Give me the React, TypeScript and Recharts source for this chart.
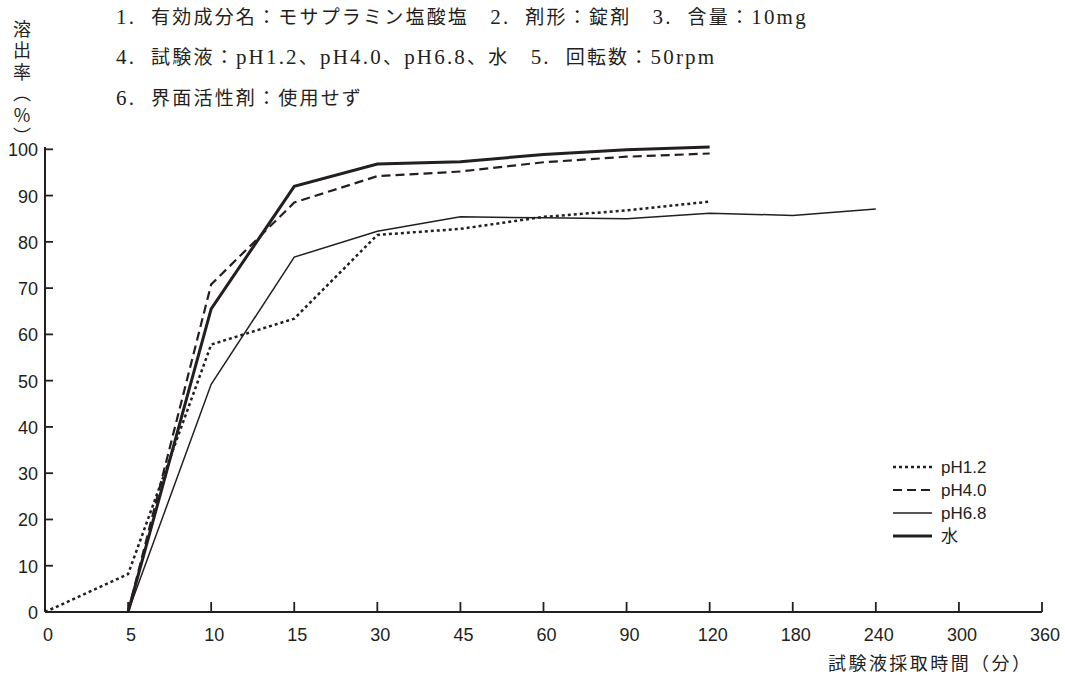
import React from 'react';
import { LineChart, Line, XAxis, YAxis } from 'recharts';

// sampling times (min) — shown as equally spaced categories
const times = ['0', '5', '10', '15', '30', '45', '60', '90', '120', '180', '240', '300', '360'];
const yTicks = [0, 10, 20, 30, 40, 50, 60, 70, 80, 90, 100];

// dissolution (%)
const ph12 = [0, 8.2, 57.8, 63.4, 81.5, 82.8, 85.4, 86.8, 88.7, null, null, null, null];
const ph40 = [null, 0, 70.8, 88.5, 94.2, 95.2, 97.2, 98.4, 99.1, null, null, null, null];
const ph68 = [null, 0, 49.2, 76.7, 82.3, 85.4, 85.2, 85.0, 86.2, 85.7, 87.1, null, null];
const water = [null, 0, 65.5, 92.0, 96.8, 97.3, 98.9, 99.9, 100.5, null, null, null, null];

// header lines, split into latin / japanese runs
const header1 = [['1.  ', 'L'], ['有効成分名：モサプラミン塩酸塩　', 'J'], ['2.  ', 'L'], ['剤形：錠剤　', 'J'], ['3.  ', 'L'], ['含量：', 'J'], ['10mg', 'L']];
const header2 = [['4.  ', 'L'], ['試験液：', 'J'], ['pH1.2', 'L'], ['、', 'J'], ['pH4.0', 'L'], ['、', 'J'], ['pH6.8', 'L'], ['、水　', 'J'], ['5.  ', 'L'], ['回転数：', 'J'], ['50rpm', 'L']];
const header3 = [['6.  ', 'L'], ['界面活性剤：使用せず', 'J']];
const yTitle = '溶出率（%）';
const xTitle = '試験液採取時間（分）';

const INK = '#231f20';
const SANS = '"Liberation Sans", Arial, sans-serif';
const CJK = '"Noto Sans CJK JP", "Liberation Sans", sans-serif';
const SERIF = '"Liberation Serif", "Times New Roman", serif';

const series = [
  { key: 'ph12', name: 'pH1.2', width: 2.5, dash: '3 3' },
  { key: 'ph40', name: 'pH4.0', width: 2.2, dash: '9 5' },
  { key: 'ph68', name: 'pH6.8', width: 1.5, dash: undefined },
  { key: 'water', name: '水', width: 3, dash: undefined },
];

const data = times.map((t, i) => ({
  i,
  t,
  ph12: ph12[i],
  ph40: ph40[i],
  ph68: ph68[i],
  water: water[i],
}));

const XTick = (props: any) => {
  const { x, y, payload } = props;
  return (
    <g>
      <line x1={x} x2={x} y1={y} y2={y - 10} stroke={INK} strokeWidth={1.8} />
      <text x={x + 3} y={y + 29} textAnchor="middle" fontSize={18} fontFamily={SANS} fill={INK}>
        {times[payload.value]}
      </text>
    </g>
  );
};

const YTick = (props: any) => {
  const { x, y, payload } = props;
  return (
    <g>
      <line x1={x} x2={x + 8} y1={y} y2={y} stroke={INK} strokeWidth={1.8} />
      <text x={x - 7} y={y + 7} textAnchor="end" fontSize={18} fontFamily={SANS} fill={INK}>
        {payload.value}
      </text>
    </g>
  );
};

const HeaderLine = ({ runs, y }: { runs: string[][]; y: number }) => (
  <text x={116} y={y} fill={INK} letterSpacing={2.2} style={{ whiteSpace: 'pre' }}>
    {runs.map(([s, k], n) => (
      <tspan key={n} fontFamily={k === 'L' ? SERIF : CJK} fontSize={k === 'L' ? 21 : 19}>
        {s}
      </tspan>
    ))}
  </text>
);

export default function App() {
  return (
    <div style={{ position: 'absolute', left: 0, top: 0, width: 1065, height: 677, background: '#fff' }}>
      <LineChart width={1065} height={677} data={data} margin={{ top: 147, right: 23, left: 0, bottom: 0 }}>
        <XAxis
          type="number"
          dataKey="i"
          domain={[0, 12]}
          ticks={times.map((_, i) => i)}
          interval={0}
          height={65}
          tickSize={0}
          tickMargin={0}
          tickLine={false}
          axisLine={{ stroke: INK, strokeWidth: 2 }}
          tick={<XTick />}
        />
        <YAxis
          type="number"
          domain={[0, 100]}
          ticks={yTicks}
          interval={0}
          width={45}
          tickSize={0}
          tickMargin={0}
          tickLine={false}
          axisLine={{ stroke: INK, strokeWidth: 2 }}
          tick={<YTick />}
        />
        {series.map((s) => (
          <Line
            key={s.key}
            type="linear"
            dataKey={s.key}
            name={s.name}
            stroke={INK}
            strokeWidth={s.width}
            strokeDasharray={s.dash}
            dot={false}
            activeDot={false}
            isAnimationActive={false}
          />
        ))}
      </LineChart>
      <svg width={1065} height={677} style={{ position: 'absolute', left: 0, top: 0, pointerEvents: 'none' }}>
        <HeaderLine runs={header1} y={24} />
        <HeaderLine runs={header2} y={64} />
        <HeaderLine runs={header3} y={105} />
        <text
          x={22}
          y={20}
          fontSize={18}
          fontFamily={CJK}
          fill={INK}
          letterSpacing={3.5}
          style={{ writingMode: 'vertical-rl', textOrientation: 'upright' } as any}
        >
          {yTitle}
        </text>
        <text x={828} y={670} fontSize={18} fontFamily={CJK} fill={INK} textLength={202} lengthAdjust="spacing">
          {xTitle}
        </text>
        {series.map((s, k) => (
          <g key={s.key}>
            <line x1={893} x2={932} y1={467 + k * 23} y2={467 + k * 23} stroke={INK} strokeWidth={s.width} strokeDasharray={s.dash} />
            <text x={941} y={473 + k * 23} fontSize={17} fontFamily={s.key === 'water' ? CJK : SANS} fill={INK}>
              {s.name}
            </text>
          </g>
        ))}
      </svg>
    </div>
  );
}
